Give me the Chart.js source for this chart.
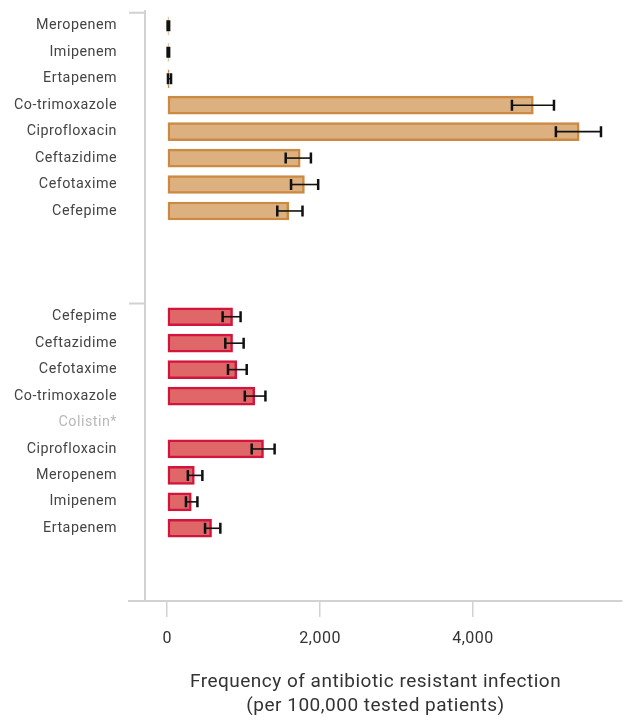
<!DOCTYPE html>
<html lang="en">
<head>
	<meta charset="UTF-8">
	<title>Antibiotic resistant infection</title>
	<script src="https://cdn.jsdelivr.net/npm/chart.js"></script>
	<style>
		html, body { margin: 0; padding: 0; background: #fff; }
		#wrap { width: 627px; height: 720px; }
	</style>
</head>
<body>
	<div id="wrap"><canvas id="barChart"></canvas></div>

<script>
// top group (tan)
const topDrugs = ['Meropenem', 'Imipenem', 'Ertapenem', 'Co-trimoxazole', 'Ciprofloxacin', 'Ceftazidime', 'Cefotaxime', 'Cefepime'];
const topRates = [15, 15, 25, 4790, 5390, 1740, 1795, 1590];
const topLow   = [5, 5, 10, 4510, 5085, 1550, 1620, 1440];
const topHigh  = [25, 25, 50, 5060, 5675, 1880, 1975, 1770];

// bottom group (red)
const bottomDrugs = ['Cefepime', 'Ceftazidime', 'Cefotaxime', 'Co-trimoxazole', 'Colistin*', 'Ciprofloxacin', 'Meropenem', 'Imipenem', 'Ertapenem'];
const bottomRates = [855, 855, 910, 1145, null, 1260, 355, 315, 580];
const bottomLow   = [725, 760, 795, 1015, null, 1105, 270, 245, 495];
const bottomHigh  = [960, 1000, 1040, 1285, null, 1405, 460, 395, 695];

const xTicks = [0, 2000, 4000];

const topStart = 0;
const bottomStart = 11;

// row positions / labels
var rowLabels = {};
topDrugs.forEach((d, i) => rowLabels[topStart + i] = d);
bottomDrugs.forEach((d, i) => rowLabels[bottomStart + i] = d);

function toPoints(values, start) {
	return values.map((v, i) => ({ x: v, y: start + i }));
}

var errors = [
	{ low: topLow, high: topHigh },
	{ low: bottomLow, high: bottomHigh }
];

const axisColor = '#d2d2d2';

// slightly wider lettering, closer to the original typeface
const spacing = {
	id: 'spacing',
	beforeDraw(chart) {
		chart.ctx.letterSpacing = '0.5px';
	}
};

// error bars drawn from the scales
const errorBars = {
	id: 'errorBars',
	afterDatasetsDraw(chart) {
		const ctx = chart.ctx;
		const xs = chart.scales.x;
		chart.data.datasets.forEach((ds, di) => {
			const meta = chart.getDatasetMeta(di);
			meta.data.forEach((bar, i) => {
				const lo = errors[di].low[i], hi = errors[di].high[i];
				if (lo == null) return;
				const y = bar.y;
				const x1 = xs.getPixelForValue(lo), x2 = xs.getPixelForValue(hi);
				ctx.save();
				ctx.strokeStyle = '#111';
				ctx.lineWidth = 1.6;
				ctx.beginPath();
				ctx.moveTo(x1, y); ctx.lineTo(x2, y);
				ctx.stroke();
				ctx.lineWidth = 2.5;
				ctx.beginPath();
				ctx.moveTo(x1, y - 5.5); ctx.lineTo(x1, y + 5.5);
				ctx.moveTo(x2, y - 5.5); ctx.lineTo(x2, y + 5.5);
				ctx.stroke();
				ctx.restore();
			});
		});
	}
};

// vertical axis line with group ticks
const groupAxis = {
	id: 'groupAxis',
	beforeDatasetsDraw(chart) {
		const ctx = chart.ctx;
		const area = chart.chartArea;
		const ys = chart.scales.y;
		const lineX = area.left + 16;
		ctx.save();
		ctx.strokeStyle = axisColor;
		ctx.lineWidth = 2;
		ctx.beginPath();
		ctx.moveTo(lineX, area.top);
		ctx.lineTo(lineX, area.bottom);
		[topStart - 0.5, bottomStart - 0.5].forEach(v => {
			const y = ys.getPixelForValue(v);
			ctx.moveTo(area.left, y);
			ctx.lineTo(lineX, y);
		});
		ctx.stroke();
		ctx.restore();
	}
};

var ctxBar = document.getElementById('barChart').getContext('2d');
var barChart = new Chart(ctxBar, {
	type: 'bar',
	data: {
		datasets: [
			{
				data: toPoints(topRates, topStart),
				backgroundColor: '#ddb07f',
				borderColor: '#cb8942',
				borderWidth: 2.5,
				borderSkipped: false,
				barThickness: 18,
				grouped: false
			},
			{
				data: toPoints(bottomRates, bottomStart),
				backgroundColor: '#e06767',
				borderColor: '#d3143c',
				borderWidth: 2.5,
				borderSkipped: false,
				barThickness: 18,
				grouped: false
			}
		]
	},
	options: {
		indexAxis: 'y',
		responsive: true,
		maintainAspectRatio: false,
		animation: false,
		layout: { padding: { top: 10, right: 5, left: 0, bottom: 0 } },
		plugins: {
			legend: { display: false },
			tooltip: { enabled: false }
		},
		scales: {
			x: {
				type: 'linear',
				min: -500,
				max: 5950,
				afterBuildTicks: axis => { axis.ticks = xTicks.map(v => ({ value: v })); },
				afterFit: axis => { axis.height = 119; axis.paddingLeft = 0; axis.paddingRight = 0; },
				grid: {
					drawOnChartArea: false,
					drawTicks: true,
					tickLength: 16,
					color: axisColor,
					lineWidth: 1.5
				},
				border: { display: true, color: axisColor, width: 2 },
				ticks: {
					autoSkip: false,
					padding: 12,
					color: '#333',
					font: { family: 'Roboto', size: 16 },
					callback: v => v.toLocaleString('en-US')
				},
				title: {
					display: true,
					text: ['Frequency of antibiotic resistant infection', '(per 100,000 tested patients)'],
					color: '#333',
					font: { family: 'Roboto', size: 19, lineHeight: 1.25 },
					padding: { top: 0, bottom: 2 }
				}
			},
			y: {
				type: 'linear',
				reverse: true,
				offset: false,
				min: -0.6,
				max: 21.75,
				afterBuildTicks: axis => {
					axis.ticks = Object.keys(rowLabels).map(k => ({ value: Number(k) }));
				},
				afterFit: axis => { axis.width = 129; axis.paddingTop = 0; axis.paddingBottom = 0; },
				grid: { display: false, drawTicks: false },
				border: { display: false },
				ticks: {
					autoSkip: false,
					padding: 12,
					font: { family: 'Roboto', size: 14.3 },
					color: c => (c.tick && c.tick.label === 'Colistin*') ? '#b8b8b8' : '#444',
					callback: v => rowLabels[v] || ''
				}
			}
		}
	},
	plugins: [spacing, groupAxis, errorBars]
});
</script>
</body>
</html>
